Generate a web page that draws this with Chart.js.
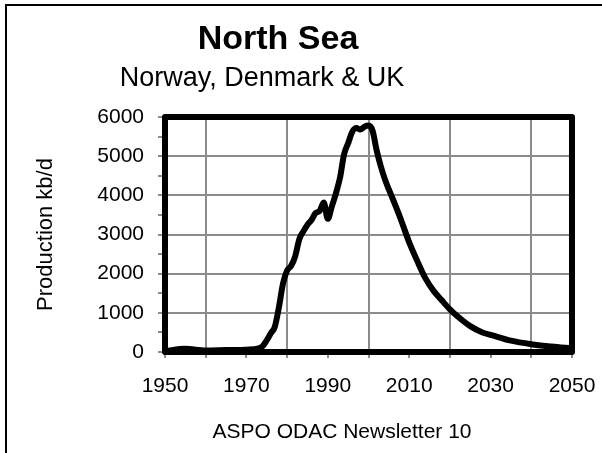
<!DOCTYPE html>
<html>
<head>
<meta charset="utf-8">
<script src="https://cdn.jsdelivr.net/npm/chart.js@4.4.1/dist/chart.umd.min.js"></script>
<style>
  html, body { margin: 0; padding: 0; background: #fff; overflow: hidden; width: 602px; height: 453px; }
  #wrap { position: relative; width: 602px; height: 453px; overflow: hidden; }
  #c { position: absolute; left: 0; top: 0; }
  .frame { position: absolute; left: 5px; top: 4px; width: 800px; height: 800px; border-top: 2px solid #000; border-left: 2px solid #000; }
  .txt { position: absolute; width: 500px; text-align: center; color: #000; font-family: "Liberation Sans", Arial, sans-serif; white-space: nowrap; }
  #title { left: 28px; top: 20px; font-size: 34px; line-height: 34px; font-weight: bold; }
  #subtitle { left: 12px; top: 64px; font-size: 27px; line-height: 27px; }
  #footer { left: 92px; top: 420px; font-size: 21px; line-height: 21px; }
</style>
</head>
<body>
<div id="wrap">
  <canvas id="c" width="602" height="453"></canvas>
  <div class="frame"></div>
  <div class="txt" id="title">North Sea</div>
  <div class="txt" id="subtitle">Norway, Denmark &amp; UK</div>
  <div class="txt" id="footer">ASPO ODAC Newsletter 10</div>
</div>
<script>
const years = [1950, 1955, 1960, 1965, 1970, 1973, 1974, 1975, 1976, 1977, 1978, 1979,
  1980, 1981, 1982, 1983, 1984, 1985, 1986, 1987, 1988, 1989, 1990, 1991, 1992, 1993,
  1994, 1995, 1996, 1997, 1998, 1999, 2000, 2001, 2002, 2003, 2004, 2005, 2006, 2007,
  2008, 2009, 2010, 2012, 2014, 2016, 2018, 2020, 2022, 2025, 2028, 2030, 2035, 2040,
  2045, 2050];
const production = [20, 80, 40, 50, 60, 90, 150, 300, 480, 650, 1150, 1750,
  2080, 2200, 2450, 2880, 3080, 3250, 3370, 3550, 3600, 3820, 3400, 3720, 4050, 4450,
  5050, 5330, 5620, 5720, 5680, 5750, 5780, 5650, 5150, 4750, 4420, 4150, 3900, 3640,
  3370, 3080, 2800, 2320, 1880, 1560, 1320, 1090, 900, 660, 500, 440, 290, 200,
  140, 90];
const xLabels = [1950, 1970, 1990, 2010, 2030, 2050];
const yLabels = [0, 1000, 2000, 3000, 4000, 5000, 6000];
const yTitle = "Production kb/d";

const points = years.map((y, i) => ({ x: y, y: production[i] }));
const GRID = '#8c8c8c';
const FONT = "'Liberation Sans', Arial, sans-serif";

const plotFrame = {
  id: 'plotFrame',
  beforeDatasetsDraw(chart) {
    const a = chart.chartArea, ctx = chart.ctx;
    ctx.save();
    ctx.strokeStyle = '#000';
    ctx.lineWidth = 6;
    ctx.lineJoin = 'round';
    ctx.strokeRect(a.left, a.top, a.right - a.left, a.bottom - a.top);
    ctx.restore();
  }
};

new Chart(document.getElementById('c'), {
  type: 'line',
  data: {
    datasets: [{
      data: points,
      borderColor: '#000',
      borderWidth: 6,
      pointRadius: 0,
      cubicInterpolationMode: 'monotone',
      borderJoinStyle: 'round',
      borderCapStyle: 'round',
      fill: false
    }]
  },
  options: {
    responsive: false,
    devicePixelRatio: 1,
    animation: false,
    events: [],
    layout: { padding: { left: 0, top: 117, right: 30, bottom: 0 } },
    plugins: { legend: { display: false }, tooltip: { enabled: false }, title: { display: false } },
    scales: {
      x: {
        type: 'linear',
        min: 1950, max: 2050,
        afterFit(s) { s.height = 101; s.paddingRight = 24; s.paddingLeft = 0; },
        border: { display: false },
        grid: {
          color: c => (c.tick && Math.round(c.tick.value - 1960) % 20 === 0) ? GRID : 'rgba(0,0,0,0)',
          tickColor: GRID,
          lineWidth: 2,
          tickLength: 6,
          drawOnChartArea: true
        },
        ticks: {
          stepSize: 10,
          autoSkip: false,
          maxRotation: 0,
          padding: 16,
          color: '#000',
          font: { family: FONT, size: 21 },
          callback: v => xLabels.includes(Math.round(v)) ? String(Math.round(v)) : ''
        }
      },
      y: {
        min: 0, max: 6000,
        afterFit(s) { s.width = 165; },
        border: { display: false },
        grid: {
          color: c => (c.tick && Math.round(c.tick.value) % 1000 === 0) ? GRID : 'rgba(0,0,0,0)',
          tickColor: GRID,
          lineWidth: 2,
          tickLength: 7
        },
        ticks: {
          stepSize: 500,
          autoSkip: false,
          padding: 14,
          color: '#000',
          font: { family: FONT, size: 21 },
          callback: v => yLabels.includes(Math.round(v)) ? String(Math.round(v)) : ''
        },
        title: {
          display: true,
          text: yTitle,
          color: '#000',
          font: { family: FONT, size: 22 },
          padding: { top: 33, bottom: 0 }
        }
      }
    }
  },
  plugins: [plotFrame]
});
</script>
</body>
</html>
